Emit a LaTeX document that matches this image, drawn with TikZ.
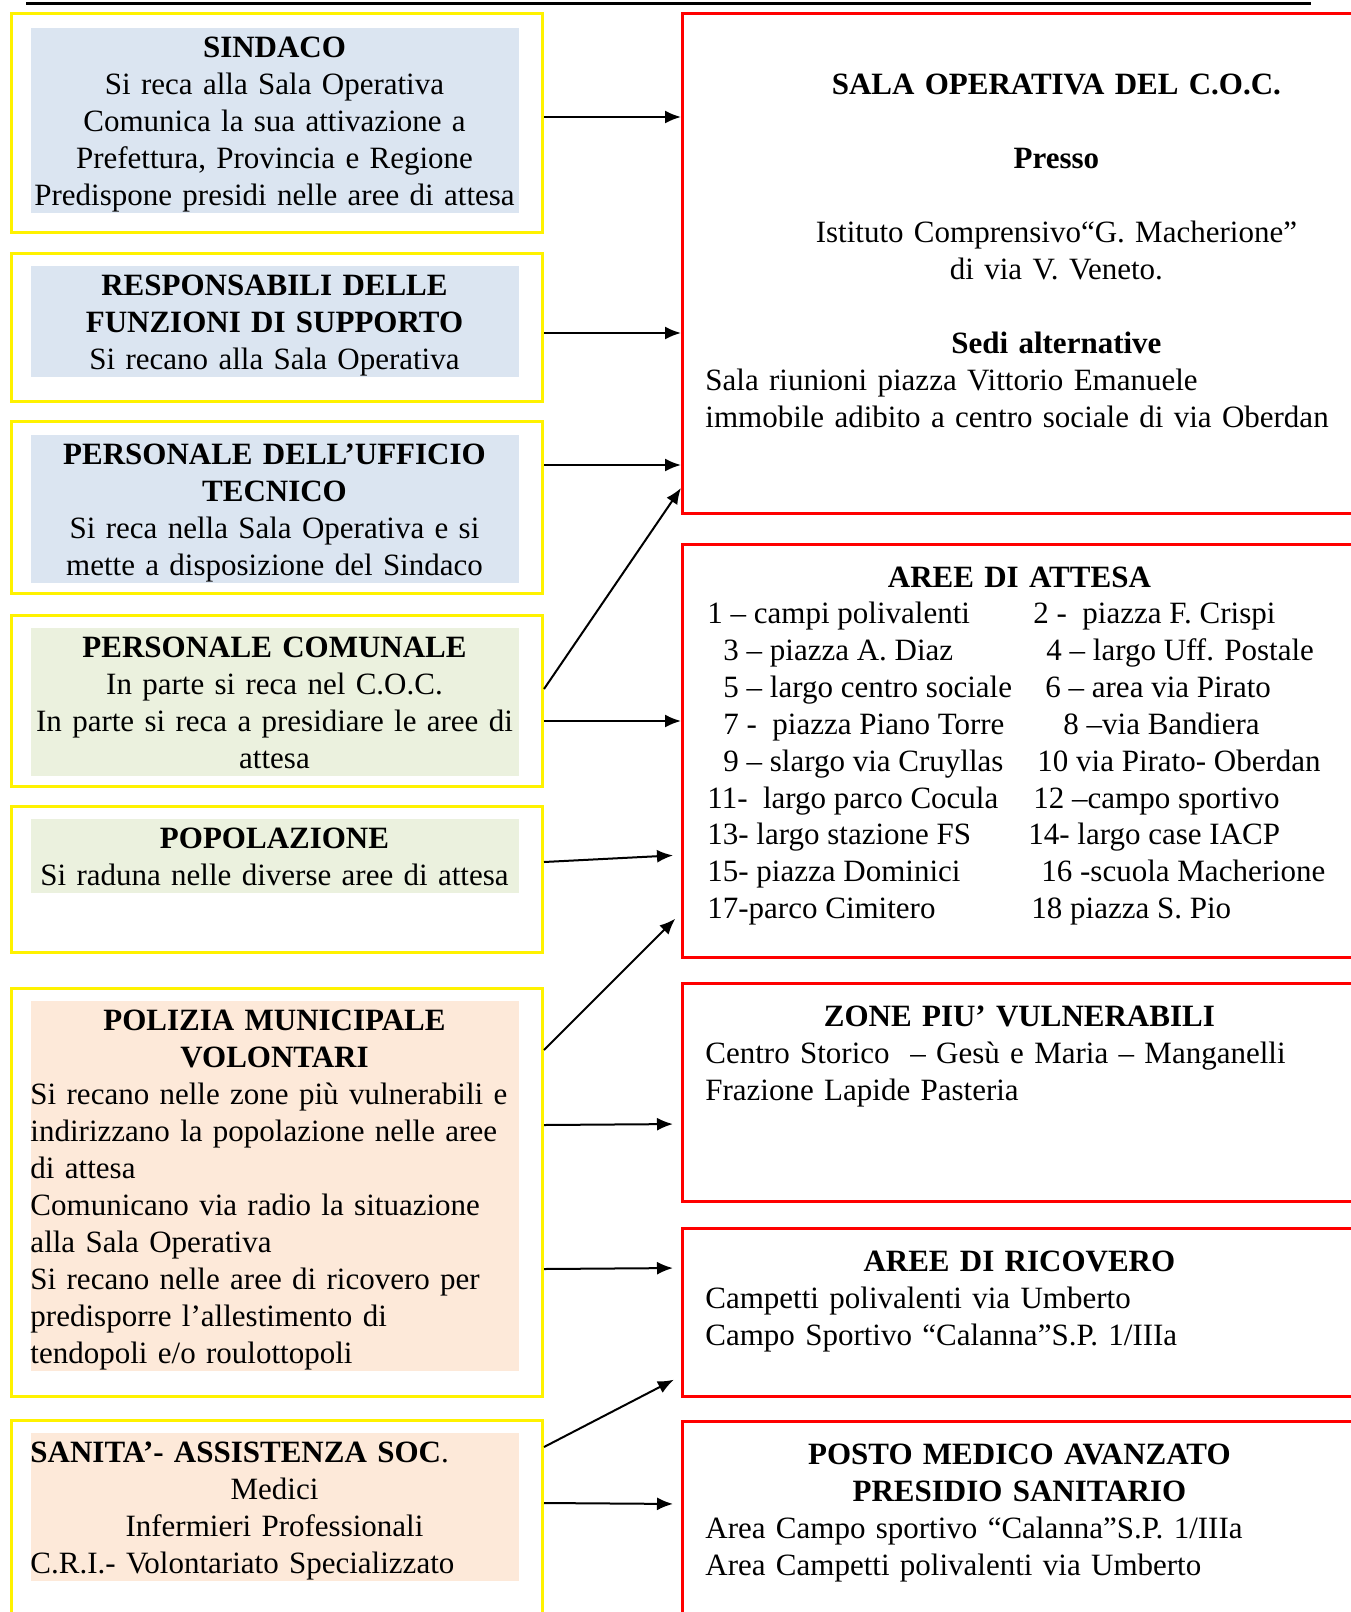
\documentclass[tikz,border=0pt]{standalone}
\usepackage{fontspec}
\setmainfont{Liberation Serif}
\usetikzlibrary{arrows.meta}
\definecolor{fillblue}{RGB}{219,229,241}
\definecolor{fillgreen}{RGB}{235,241,222}
\definecolor{fillpeach}{RGB}{253,233,217}
\newcommand\linestrut{\rule[-4.1pt]{0pt}{18.5pt}}
\hyphenpenalty=10000
\tikzset{
  yellowbox/.style={draw=yellow, line width=1.5pt, anchor=north west, minimum width=265.5pt, inner sep=0pt},
  redbox/.style={draw=red, line width=1.5pt, anchor=north west, minimum width=339.5pt, inner sep=0pt},
  shaded/.style={anchor=north, inner sep=0pt, text width=244pt, execute at begin node={\setlength{\parindent}{0pt}\linestrut}, execute at end node=\linestrut},
  boxtext/.style={anchor=north west, inner sep=0pt, text width=314pt, execute at begin node={\setlength{\parindent}{0pt}\linestrut}, execute at end node=\linestrut},
  areaitem/.style={anchor=base west, inner sep=0pt},
  arr/.style={-{Latex[length=8pt,width=6.5pt]}, line width=1pt}
}
\begin{document}
\begin{tikzpicture}[x=0.5pt, y=-0.5pt, font=\fontsize{15.5pt}{18.5pt}\selectfont]
\useasboundingbox (0,0) rectangle (1350,1612);
\draw[line width=1.5pt] (26,3) -- (1311,3);

% left column
\node[yellowbox, minimum height=109.5pt] (sind) at (10,12) {};
\node[shaded, fill=fillblue, align=center] (sindT) at (274.5,28) {\textbf{SINDACO}\\Si reca alla Sala Operativa\\Comunica la sua attivazione a\\Prefettura, Provincia e Regione\\Predispone presidi nelle aree di attesa};

\node[yellowbox, minimum height=74pt] (resp) at (10,252) {};
\node[shaded, fill=fillblue, align=center] (respT) at (274.5,266) {\textbf{RESPONSABILI DELLE}\\\textbf{FUNZIONI DI SUPPORTO}\\Si recano alla Sala Operativa};

\node[yellowbox, minimum height=86pt] (uff) at (10,420) {};
\node[shaded, fill=fillblue, align=center] (uffT) at (274.5,435) {\textbf{PERSONALE DELL’UFFICIO}\\\textbf{TECNICO}\\Si reca nella Sala Operativa e si\\mette a disposizione del Sindaco};

\node[yellowbox, minimum height=85.5pt] (com) at (10,614) {};
\node[shaded, fill=fillgreen, align=center] (comT) at (274.5,628) {\textbf{PERSONALE COMUNALE}\\In parte si reca nel C.O.C.\\In parte si reca a presidiare le aree di\\attesa};

\node[yellowbox, minimum height=73pt] (pop) at (10,805) {};
\node[shaded, fill=fillgreen, align=center] (popT) at (274.5,819) {\textbf{POPOLAZIONE}\\Si raduna nelle diverse aree di attesa};

\node[yellowbox, minimum height=204pt] (pol) at (10,987) {};
\node[shaded, fill=fillpeach] (polT) at (274.5,1001) {{\centering\textbf{POLIZIA MUNICIPALE}\\\textbf{VOLONTARI}\par}\raggedright Si recano nelle zone più vulnerabili e\\indirizzano la popolazione nelle aree\\di attesa\\Comunicano via radio la situazione\\alla Sala Operativa\\Si recano nelle aree di ricovero per\\predisporre l’allestimento di\\tendopoli e/o roulottopoli};

\node[yellowbox, minimum height=105.5pt] (san) at (10,1419) {};
\node[shaded, fill=fillpeach] (sanT) at (274.5,1433) {{\raggedright\textbf{SANITA’- ASSISTENZA SOC}.\par}\centering Medici\\Infermieri Professionali\\C.R.I.- Volontariato Specializzato};

% right column
\node[redbox, minimum height=250pt] (sala) at (681,12) {};
\node[boxtext, text width=351pt] (salaT) at (705,65) {{\centering\textbf{SALA OPERATIVA DEL C.O.C.}\\[18.5pt]\textbf{Presso}\\[18.5pt]Istituto Comprensivo“G. Macherione”\\di via V. Veneto.\\[18.5pt]\textbf{Sedi alternative}\par}\raggedright Sala riunioni piazza Vittorio Emanuele\\immobile adibito a centro sociale di via Oberdan};

\node[redbox, minimum height=206.5pt] (att) at (681,543) {};
\node[boxtext, align=center] (attT) at (705,558) {\textbf{AREE DI ATTESA}};
\foreach \yy/\xa/\ta/\xb/\tb [count=\i] in {
  623/707/{1 – campi polivalenti}/1033/{2 -\ \ piazza F. Crispi},
  660/723/{3 – piazza A. Diaz}/1046/{4 – largo Uff. Postale},
  697/723/{5 – largo centro sociale}/1045/{6 – area via Pirato},
  734/723/{7 -\ \ piazza Piano Torre}/1063/{8 –via Bandiera},
  771/723/{9 – slargo via Cruyllas}/1037/{10 via Pirato- Oberdan},
  808/707/{11-\ \ largo parco Cocula}/1033/{12 –campo sportivo},
  844/707/{13- largo stazione FS}/1028/{14- largo case IACP},
  881/707/{15- piazza Dominici}/1041/{16 -scuola Macherione},
  918/707/{17-parco Cimitero}/1031/{18 piazza S. Pio}}{
  \node[areaitem] (attL\i) at (\xa,\yy) {\ta};
  \node[areaitem] (attR\i) at (\xb,\yy) {\tb};
}

\node[redbox, minimum height=109pt] (zone) at (681,982) {};
\node[boxtext] (zoneT) at (705,997) {{\centering\textbf{ZONE PIU’ VULNERABILI}\par}\raggedright Centro Storico\ \ – Gesù e Maria – Manganelli\\Frazione Lapide Pasteria};

\node[redbox, minimum height=84pt] (ric) at (681,1227) {};
\node[boxtext] (ricT) at (705,1242) {{\centering\textbf{AREE DI RICOVERO}\par}\raggedright Campetti polivalenti via Umberto\\Campo Sportivo “Calanna”S.P. 1/IIIa};

\node[redbox, minimum height=105pt] (pma) at (681,1420) {};
\node[boxtext] (pmaT) at (705,1435) {{\centering\textbf{POSTO MEDICO AVANZATO}\\\textbf{PRESIDIO SANITARIO}\par}\raggedright Area Campo sportivo “Calanna”S.P. 1/IIIa\\Area Campetti polivalenti via Umberto};

% arrows
\draw[arr] (sind.east |- 0,117) -- (sala.west |- 0,117);
\draw[arr] (resp.east |- 0,333) -- (sala.west |- 0,333);
\draw[arr] (uff.east |- 0,465) -- (sala.west |- 0,465);
\draw[arr] (com.east |- 0,689) -- (sala.west |- 0,488);
\draw[arr] (com.east |- 0,721) -- (att.west |- 0,721);
\draw[arr, shorten >=4pt] (pop.east |- 0,862) -- (att.west |- 0,855);
\draw[arr, shorten >=4pt] (pol.east |- 0,1050) -- (att.west |- 0,913);
\draw[arr, shorten >=4pt] (pol.east |- 0,1125) -- (zone.west |- 0,1124);
\draw[arr, shorten >=4pt] (pol.east |- 0,1269) -- (ric.west |- 0,1268);
\draw[arr, shorten >=4pt] (san.east |- 0,1447) -- (ric.west |- 0,1376);
\draw[arr, shorten >=4pt] (san.east |- 0,1503) -- (pma.west |- 0,1504);
\end{tikzpicture}
\end{document}
